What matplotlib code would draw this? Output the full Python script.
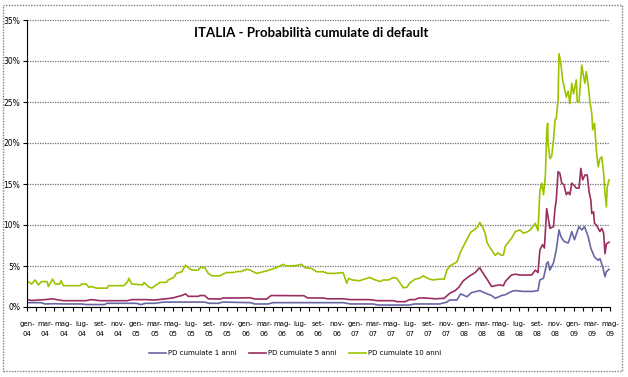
import matplotlib.pyplot as plt
from matplotlib.patches import Rectangle
from matplotlib.ticker import FixedLocator, PercentFormatter

# mesi dal gen-04 (0 = gennaio 2004) e probabilita' cumulate in %
t_10 = [0.0, 0.5, 0.9, 1.25, 1.6, 2.2, 2.35, 2.8, 3.1, 3.6, 3.75, 4.0, 5.8, 6.0, 6.5, 6.8,
        7.1, 7.6, 8.8, 8.95, 10.6, 11.0, 11.2, 11.5, 12.7, 12.85, 13.3, 13.7, 14.2, 14.6,
        15.3, 15.5, 16.1, 16.4, 17.0, 17.4, 17.7, 18.1, 18.8, 19.0, 19.5, 19.9, 20.3, 21.2,
        21.5, 21.9, 22.6, 23.2, 23.4, 24.1, 24.5, 25.2, 26.3, 27.4, 28.1, 28.5, 29.5, 30.15,
        30.5, 31.25, 31.8, 32.5, 33.0, 33.8, 34.7, 35.1, 35.3, 35.7, 36.5, 37.6, 38.0, 38.75,
        39.1, 39.7, 40.2, 40.6, 40.9, 41.3, 41.7, 42.0, 42.6, 43.1, 43.5, 43.8, 44.2, 44.6,
        45.3, 45.8, 46.1, 46.4, 47.2, 47.6, 48.3, 48.7, 49.2, 49.5, 49.7, 49.9, 50.3, 50.5,
        51.0, 51.4, 51.7, 52.1, 52.3, 52.5, 53.2, 53.6, 54.1, 54.5, 55.0, 55.4, 55.8, 56.1,
        56.3, 56.5, 56.7, 56.9, 57.05, 57.15, 57.2, 57.4, 57.6, 57.8, 57.96, 58.1, 58.3, 58.4,
        58.6, 58.8, 58.95, 59.2, 59.4, 59.6, 59.8, 60.0, 60.3, 60.4, 60.6, 60.9, 61.1, 61.25,
        61.4, 61.6, 61.8, 62.0, 62.1, 62.3, 62.5, 62.7, 62.9, 63.1, 63.3, 63.45, 63.6, 63.7, 63.9]
pd_10 = [3.2, 2.8, 3.3, 2.7, 3.1, 3.1, 2.5, 3.4, 2.8, 2.8, 3.2, 2.6, 2.6, 2.8, 2.8, 2.4,
         2.5, 2.3, 2.3, 2.6, 2.6, 3.0, 3.5, 2.8, 2.7, 3.0, 2.5, 2.3, 2.7, 3.0,
         3.0, 3.3, 3.6, 4.1, 4.3, 5.1, 4.8, 4.5, 4.5, 4.8, 4.8, 4.1, 3.8, 3.8,
         4.0, 4.2, 4.2, 4.35, 4.3, 4.6, 4.5, 4.1, 4.4, 4.8, 5.2, 5.0, 5.05, 5.2,
         4.8, 4.7, 4.3, 4.3, 4.1, 4.1, 4.2, 2.9, 3.5, 3.3, 3.2, 3.6, 3.4, 3.1,
         3.3, 3.3, 3.6, 3.5, 3.0, 2.35, 2.4, 2.9, 3.4, 3.5, 3.8, 3.6, 3.4, 3.3,
         3.4, 3.4, 4.5, 5.0, 5.5, 6.75, 8.25, 9.1, 9.5, 9.8, 10.3, 10.0, 9.0, 7.85,
         6.95, 6.3, 6.6, 6.3, 6.35, 7.4, 8.4, 9.2, 9.4, 9.0, 9.2, 9.6, 10.2, 9.3,
         14.1, 15.1, 13.7, 15.9, 21.2, 22.4, 20.0, 18.1, 18.4, 20.4, 22.8, 23.0, 25.2, 30.9,
         29.7, 27.7, 26.9, 25.6, 26.3, 24.8, 27.3, 26.0, 27.7, 25.0, 25.0, 29.5, 28.1, 27.3,
         28.7, 27.1, 25.0, 23.6, 21.6, 22.4, 19.1, 17.1, 18.1, 18.3, 16.3, 13.9, 12.2, 14.7, 15.5]

t_5 = [0.0, 0.5, 1.2, 2.0, 2.8, 3.5, 4.0, 6.5, 7.0, 7.5, 8.0, 11.0, 11.5, 13.0, 14.0, 15.0,
       16.0, 16.5, 17.0, 17.4, 17.7, 18.8, 19.0, 19.5, 19.9, 21.2, 21.5, 23.0, 24.5, 25.0,
       26.3, 26.8, 29.5, 30.4, 30.8, 32.5, 33.0, 34.7, 35.5, 37.6, 38.5, 40.3, 40.6, 41.5,
       42.0, 42.6, 43.0, 43.6, 44.2, 44.8, 45.8, 46.4, 47.0, 47.4, 47.9, 48.6, 49.2, 49.7,
       49.9, 50.5, 51.0, 51.4, 51.9, 52.3, 52.5, 53.0, 53.2, 53.6, 54.1, 55.4, 55.8, 56.1,
       56.3, 56.6, 56.8, 57.05, 57.2, 57.4, 57.8, 57.96, 58.1, 58.3, 58.5, 58.7, 58.95, 59.2,
       59.4, 59.6, 59.8, 60.0, 60.3, 60.6, 60.8, 61.0, 61.25, 61.5, 61.7, 61.9, 62.0, 62.2,
       62.3, 62.5, 62.9, 63.1, 63.3, 63.45, 63.6, 63.9]
pd_5 = [0.9, 0.8, 0.85, 0.9, 1.0, 0.85, 0.77, 0.77, 0.9, 0.85, 0.77, 0.77, 0.9, 0.9, 0.85, 0.97,
        1.1, 1.26, 1.4, 1.6, 1.3, 1.3, 1.4, 1.4, 1.0, 0.97, 1.1, 1.1, 1.13, 0.97,
        0.97, 1.4, 1.38, 1.38, 1.1, 1.1, 1.0, 1.0, 0.9, 0.9, 0.77, 0.77, 0.65, 0.65,
        0.9, 0.9, 1.1, 1.1, 1.06, 1.0, 1.06, 1.67, 2.0, 2.4, 3.2, 3.8, 4.2, 4.8,
        4.4, 3.4, 2.5, 2.6, 2.7, 2.6, 3.1, 3.7, 3.9, 4.0, 3.9, 3.9, 4.5, 4.2,
        6.95, 7.6, 7.2, 12.0, 11.0, 9.6, 9.8, 12.0, 13.0, 16.5, 16.3, 15.1, 14.9, 13.7,
        14.0, 13.7, 15.1, 14.9, 14.5, 14.5, 16.9, 15.5, 16.1, 16.1, 14.1, 13.0, 11.4, 11.6,
        10.2, 10.0, 9.2, 9.6, 9.0, 6.5, 7.7, 7.9]

t_1 = [0.0, 1.5, 2.0, 3.0, 4.0, 6.0, 6.5, 8.5, 8.8, 12.0, 12.5, 13.0, 14.0, 15.0, 19.5, 20.0,
       21.0, 21.5, 24.5, 25.0, 26.5, 27.0, 34.7, 35.5, 38.0, 38.5, 42.0, 42.5, 45.3, 46.1,
       46.4, 47.2, 47.6, 48.3, 48.8, 49.7, 50.3, 51.0, 51.4, 52.1, 52.5, 53.2, 53.6, 54.5,
       55.5, 56.1, 56.3, 56.7, 57.05, 57.2, 57.4, 57.8, 58.1, 58.4, 58.6, 58.95, 59.4, 59.6,
       59.8, 60.1, 60.4, 60.6, 60.9, 61.2, 61.6, 61.9, 62.3, 62.7, 62.9, 63.2, 63.45, 63.6, 63.9]
pd_1 = [0.53, 0.53, 0.37, 0.4, 0.37, 0.37, 0.3, 0.3, 0.45, 0.45, 0.3, 0.45, 0.45, 0.6, 0.6, 0.45,
        0.45, 0.6, 0.53, 0.37, 0.37, 0.53, 0.53, 0.37, 0.37, 0.24, 0.24, 0.37, 0.37, 0.6,
        0.85, 0.85, 1.6, 1.25, 1.75, 2.0, 1.7, 1.4, 1.06, 1.4, 1.5, 1.9, 2.0, 1.9,
        1.9, 2.0, 3.3, 3.5, 5.3, 5.5, 4.5, 5.4, 6.95, 9.4, 8.6, 8.0, 7.8, 8.4,
        9.2, 8.2, 9.2, 9.8, 9.4, 9.8, 8.6, 7.15, 6.1, 5.7, 5.9, 4.9, 3.7, 4.3, 4.6]

mesi = ["gen", "mar", "mag", "lug", "set", "nov"]
anni = ["04", "05", "06", "07", "08", "09"]
etichette = [f"{mesi[i % 6]}-\n{anni[i // 6]}" for i in range(33)]

narrow = ["Liberation Sans Narrow", "DejaVu Sans"]

fig = plt.figure(figsize=(6.28, 3.77), dpi=100)
ax = fig.add_axes([27 / 628, 70 / 377, 583 / 628, 287 / 377])

ax.plot(t_1, pd_1, color="#6767a3", lw=1.2, label="PD cumulate 1 anni")
ax.plot(t_5, pd_5, color="#9a2e60", lw=1.2, label="PD cumulate 5 anni")
ax.plot(t_10, pd_10, color="#9bc400", lw=1.2, label="PD cumulate 10 anni")

ax.set_xlim(0, 64)
ax.set_ylim(0, 35)
ax.yaxis.set_major_locator(FixedLocator(range(0, 36, 5)))
ax.yaxis.set_major_formatter(PercentFormatter(decimals=0))
ax.set_xticks(range(0, 65, 2))
ax.set_xticklabels(etichette, family=narrow, fontsize=5, linespacing=1.8)
ax.set_xticks(range(0, 65), minor=True)
ax.tick_params(axis="x", which="both", length=3, width=0.8, pad=7)
ax.tick_params(axis="y", length=3, width=0.8, labelsize=5.5, pad=2)
for lab in ax.get_yticklabels():
    lab.set_family(narrow)
ax.grid(axis="y", color="#707070", linestyle=(0, (1, 1)), lw=0.9)
ax.set_axisbelow(True)
for s in ["top", "right"]:
    ax.spines[s].set_visible(False)

ax.text(0.488, 0.955, "ITALIA - Probabilità cumulate di default", transform=ax.transAxes,
        ha="center", va="center", fontsize=9.5, fontweight="bold", family="Lato")

fig.legend(loc="center", bbox_to_anchor=(295 / 628, 1 - 353 / 377), ncol=3, frameon=False,
           prop={"family": narrow, "size": 5}, handlelength=2.4, columnspacing=1.8,
           handletextpad=0.3)

fig.patches.append(Rectangle((3 / 628, 6 / 377), 619 / 628, 366 / 377, transform=fig.transFigure,
                             fill=False, edgecolor="#808080", linestyle=(0, (1, 1)), lw=1))

fig.savefig("out.png", dpi=100)
